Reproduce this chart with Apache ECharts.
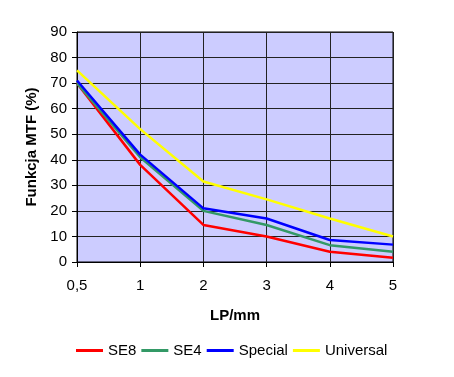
<!DOCTYPE html>
<html>
<head>
<meta charset="utf-8">
<script src="https://cdn.jsdelivr.net/npm/echarts@6/dist/echarts.min.js"></script>
<style>
  html, body { margin: 0; padding: 0; background: #fff; }
  #chart { width: 454px; height: 377px; }
</style>
</head>
<body>
<div id="chart"></div>
<script>
// dane
const lpCategories = ['0,5', '1', '2', '3', '4', '5']
const se8 = [70, 38, 14.5, 10, 4, 1.7]
const se4 = [70, 41, 20, 14.5, 6.6, 4]
const special = [71, 42, 21, 17, 8.6, 6.8]
const universal = [75, 52, 31.5, 24.5, 17, 10]

const chart = echarts.init(document.getElementById('chart'))

const font = 'Liberation Sans, Arial, sans-serif'

function line(name, data, color) {
  return {
    name: name,
    type: 'line',
    data: data,
    symbol: 'none',
    lineStyle: { color: color, width: 2.5 },
    itemStyle: { color: color }
  }
}

const option = {
  animation: false,
  backgroundColor: '#fff',
  textStyle: { fontFamily: font },
  grid: {
    left: 77,
    right: 61,
    top: 32,
    bottom: 115,
    show: true,
    backgroundColor: '#CCCCFF',
    borderColor: '#000',
    borderWidth: 1
  },
  legend: {
    top: 338,
    left: 71,
    itemWidth: 27,
    itemHeight: 3,
    itemGap: 5,
    icon: 'rect',
    textStyle: { color: '#000', fontSize: 15, fontFamily: font },
    data: ['SE8', 'SE4', 'Special', 'Universal']
  },
  xAxis: {
    type: 'category',
    data: lpCategories,
    boundaryGap: false,
    name: 'LP/mm',
    nameLocation: 'middle',
    nameGap: 46,
    nameTextStyle: { color: '#000', fontSize: 15, fontWeight: 'bold', fontFamily: font },
    axisLine: { lineStyle: { color: '#000' } },
    axisTick: { show: true, length: 5, lineStyle: { color: '#000' } },
    axisLabel: { color: '#000', fontSize: 15, margin: 16, fontFamily: font },
    splitLine: { show: true, lineStyle: { color: '#222', width: 1 } }
  },
  yAxis: {
    type: 'value',
    min: 0,
    max: 90,
    interval: 10,
    name: 'Funkcja MTF (%)',
    nameLocation: 'middle',
    nameGap: 36,
    nameTextStyle: { color: '#000', fontSize: 15, fontWeight: 'bold', fontFamily: font },
    axisLine: { show: true, lineStyle: { color: '#000' } },
    axisTick: { show: true, length: 5, lineStyle: { color: '#000' } },
    axisLabel: { color: '#000', fontSize: 15, margin: 10, fontFamily: font },
    splitLine: { show: true, lineStyle: { color: '#222', width: 1 } }
  },
  series: [
    line('SE8', se8, '#FF0000'),
    line('SE4', se4, '#339966'),
    line('Special', special, '#0000FF'),
    line('Universal', universal, '#FFFF00')
  ]
}

chart.setOption(option)
</script>
</body>
</html>
